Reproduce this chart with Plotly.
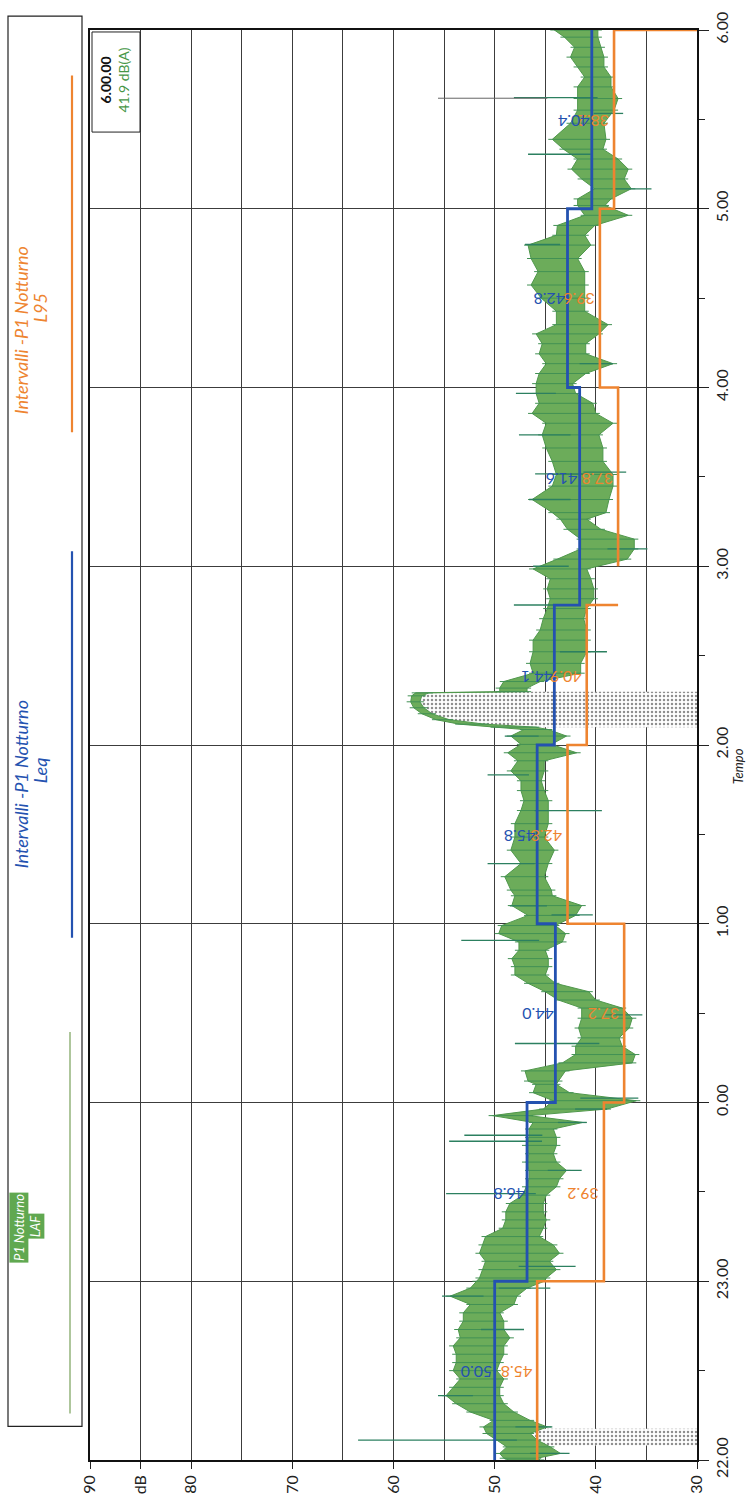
import numpy as np
import plotly.graph_objects as go

FONT = "Lato"

# ---------------- data ----------------
hour_tickvals = [0, 1, 2, 3, 4, 5, 6, 7, 8]
hour_ticktext = ["22.00", "23.00", "0.00", "1.00", "2.00", "3.00", "4.00", "5.00", "6.00"]
db_tickvals = [90, 85, 80, 70, 60, 50, 40, 30]
db_ticktext = ["90", "dB", "80", "70", "60", "50", "40", "30"]

# LAF band: minutes after 22:00, upper and lower edge (dB)
laf_minutes = [0.0, 0.6, 2.2, 4.4, 6.7, 8.9, 11.1, 13.3, 16.1, 18.9, 21.6, 24.4, 27.2, 30.0, 32.7, 35.5,
               38.3, 41.0, 43.8, 46.6, 49.4, 52.2, 55.0, 57.7, 60.0, 61.1, 63.9, 66.7, 69.4, 72.2,
               75.0, 77.8, 80.6, 83.3, 86.1, 88.9, 91.7, 94.4, 97.2, 100.0, 102.8, 105.6, 108.3,
               111.1, 113.3, 115.6, 117.8, 120.6, 123.3, 126.1, 127.2, 130.6, 133.3, 136.1, 138.9,
               141.7, 145.0, 148.3, 151.7, 154.4, 157.2, 160.0, 162.8, 165.6, 168.3, 171.1, 173.9,
               176.7, 179.4, 182.8, 186.1, 189.4, 191.3, 195.8, 200.2, 204.7, 209.1, 213.6, 218.0,
               221.3, 224.7, 228.0, 231.3, 234.7, 237.4, 240.2, 243.0, 245.2, 246.0, 247.0, 248.5,
               250.5, 252.5, 254.5, 256.5, 257.5, 257.9, 259.1, 261.3, 264.1, 267.4, 271.3,
               275.2, 278.6, 282.4, 285.8, 289.1, 292.4, 295.8, 299.1, 302.4, 305.8, 309.1, 312.4,
               315.8, 318.0, 322.4, 326.9, 330.8, 335.2, 339.7, 344.1, 348.0, 351.3, 354.7, 358.0,
               361.3, 364.7, 368.0, 371.3, 374.7, 378.0, 381.1, 385.6, 390.0, 394.4, 398.9, 403.3,
               407.8, 411.1, 414.4, 417.8, 421.1, 423.3, 426.7, 430.0, 433.3, 436.7, 440.0, 443.3,
               448.7, 453.1, 457.0, 460.9, 464.2, 467.6, 470.9, 474.2, 477.6, 480.0]
laf_upper = [48.6, 49.1, 49.5, 48.8, 49.8, 50.8, 51.1, 50.1, 52.4, 53.8, 54.8, 54.1, 53.4, 54.1, 53.8, 53.8,
             54.1, 53.4, 53.6, 53.1, 53.1, 52.4, 54.4, 52.4, 51.8, 51.5, 51.2, 50.9, 51.5, 51.2,
             50.9, 49.2, 48.9, 48.9, 48.5, 47.2, 46.9, 46.6, 46.6, 46.9, 46.6, 46.9, 46.6,
             46.6, 46.2, 50.2, 45.2, 44.2, 46.2, 45.9, 46.7, 47.0, 43.3, 42.0, 42.0,
             41.4, 41.7, 41.4, 41.4, 43.7, 45.0, 46.7, 48.0, 48.0, 48.3, 47.6, 47.6,
             49.6, 49.3, 46.7, 48.3, 48.0, 48.4, 49.0, 47.4, 48.4, 48.0, 48.0, 47.4,
             47.1, 47.4, 47.4, 48.4, 47.7, 48.7, 47.4, 48.4, 47.1, 50.0, 53.5, 55.8,
             57.2, 58.0, 58.3, 58.2, 57.8, 49.5, 49.5, 49.1, 46.2, 46.5, 46.2,
             46.2, 45.5, 45.2, 44.8, 44.5, 44.8, 44.5, 46.2, 43.8, 41.5, 41.5, 42.8,
             43.5, 44.3, 46.3, 44.3, 43.9, 44.3, 44.9, 45.3, 44.9, 46.3, 45.6, 45.9,
             45.9, 45.6, 44.9, 45.6, 45.3, 45.9, 43.9, 43.9, 45.4, 46.4, 45.7, 46.4,
             46.7, 43.9, 43.8, 41.1, 41.8, 41.8, 40.1, 41.4, 42.4, 41.8, 43.2, 44.3,
             42.5, 41.8, 41.8, 41.8, 41.1, 41.8, 42.5, 42.1, 43.1, 44.1]
laf_lower = [45.5, 45.8, 43.5, 44.5, 45.8, 46.5, 44.8, 46.5, 48.1, 49.1, 49.5, 49.5, 49.1, 49.8, 49.5, 49.1,
             49.1, 48.5, 49.1, 49.1, 49.5, 48.1, 47.8, 46.8, 45.1, 44.9, 43.9, 44.6, 43.6, 44.2,
             45.6, 45.2, 44.9, 45.2, 45.2, 44.9, 43.9, 43.6, 42.9, 43.9, 44.2, 43.9, 43.9,
             44.2, 41.3, 46.6, 38.9, 36.0, 42.6, 43.9, 43.7, 43.0, 36.4, 36.1, 37.4,
             37.7, 36.7, 36.4, 37.4, 40.0, 40.7, 44.0, 45.0, 44.7, 44.7, 45.0, 43.3,
             43.0, 44.0, 42.0, 41.4, 44.3, 44.4, 45.1, 44.7, 44.1, 45.1, 44.7, 44.7,
             44.7, 45.1, 45.4, 45.1, 45.1, 41.9, 44.4, 42.9, 44.7, 46.0, 51.0, 54.5,
             56.2, 57.0, 57.4, 57.2, 56.5, 46.8, 46.8, 45.5, 41.5, 41.5, 40.9,
             40.9, 40.9, 41.2, 40.9, 40.2, 40.2, 40.5, 40.9, 36.9, 36.2, 36.2, 39.5,
             40.9, 39.0, 38.7, 38.3, 38.3, 39.3, 39.3, 39.7, 38.3, 40.0, 40.3, 42.0,
             42.3, 41.0, 38.3, 41.0, 41.0, 39.7, 38.8, 41.1, 41.1, 41.1, 41.1, 41.8,
             40.5, 41.1, 40.1, 36.8, 39.1, 38.5, 36.5, 37.2, 36.8, 37.8, 39.3, 39.0,
             39.2, 38.2, 37.8, 38.5, 38.5, 39.2, 39.2, 39.5, 39.8, 39.8]

# isolated LAF peaks: minutes after 22:00 and peak level (dB)
spike_minutes = [2.2, 6.7, 11.1, 21.6, 43.8, 55.0, 57.7, 65.0, 89.4, 97.2, 107.0, 109.0, 113.3,
                 117.8, 121.5, 139.8, 149.4, 174.4, 183.0, 186.0, 200.2, 218.0, 230.0, 243.0,
                 271.3, 287.0, 300.0, 305.8, 322.4, 331.0, 331.6, 344.1, 358.0, 368.0, 408.0,
                 426.7, 438.3, 452.0, 457.3]
spike_db = [42.6, 63.5, 44.3, 55.6, 47.1, 55.2, 44.5, 42.0, 54.8, 41.4, 54.5, 53.0, 40.9,
            38.9, 35.8, 48.0, 35.4, 53.3, 40.3, 48.5, 50.7, 39.4, 50.7, 49.0,
            38.9, 48.1, 46.2, 34.9, 46.6, 46.0, 37.0, 47.6, 47.9, 38.3, 47.0,
            34.5, 46.7, 37.3, 48.1]

# thin grey marker line near 5.37
marker_minute = 457.1
marker_db = [55.6, 44.8]

# interval levels (Leq blue, L95 orange); hours after 22:00
interval_edges_h = [0, 1, 2, 3, 4, 4.783, 5, 6, 7, 8]
leq_values = [50.0, 46.8, 44.0, 45.8, 44.1, 41.6, 41.6, 42.8, 40.4]
l95_values = [45.8, 39.2, 37.2, 42.8, 40.9, None, 37.8, 39.6, 38.2]

label_hours = [0.5, 1.5, 2.5, 3.5, 4.392, 5.5, 6.5, 7.5]
leq_labels = [50.0, 46.8, 44.0, 45.8, 44.1, 41.6, 42.8, 40.4]
l95_labels = [45.8, 39.2, 37.2, 42.8, 40.9, 37.8, 39.6, 38.2]

# excluded (dotted) periods, minutes after 22:00
excl1_minutes = [4.9, 10.5]
excl1_level = 46.8
excl2_minutes = [245.8, 257.9]

cursor_time = "6.00.00"
cursor_value = "41.9 dB(A)"

# ---------------- colours ----------------
GREEN = "rgb(108,172,90)"
GREEN_EDGE = "rgb(80,152,76)"
HATCH = "rgb(66,145,84)"
SPIKE = "rgb(44,128,96)"
BLUE = "#2452b0"
ORANGE = "#ee8430"
GRID = "#3c3c3c"

# layout pixel geometry
W, H = 749, 1506
PL, PR, PT, PB = 90, 697, 19, 1462


def px(x):
    return (x - PL) / (PR - PL)


def py(y):
    return (PB - y) / (PB - PT)


fig = go.Figure()

dots = dict(shape=".", fgcolor="#1e1e1e", bgcolor="white", size=4, solidity=0.3)

# excluded region 1
e1 = [m / 60 for m in excl1_minutes]
fig.add_trace(go.Scatter(x=[excl1_level, 30, 30, excl1_level, excl1_level],
                         y=[e1[0], e1[0], e1[1], e1[1], e1[0]],
                         mode="lines", fill="toself", fillcolor="white",
                         fillpattern=dots, line=dict(width=0), hoverinfo="skip"))

# excluded region 2 (under the trace)
t_arr = np.array(laf_minutes)
lo_arr = np.array(laf_lower)
hi_arr = np.array(laf_upper)
mask = (t_arr >= excl2_minutes[0]) & (t_arr <= excl2_minutes[1])
ex2_t = list(t_arr[mask] / 60)
ex2_x = list(lo_arr[mask])
fig.add_trace(go.Scatter(x=ex2_x + [30, 30] + [ex2_x[0]],
                         y=ex2_t + [ex2_t[-1], ex2_t[0]] + [ex2_t[0]],
                         mode="lines", fill="toself", fillcolor="white",
                         fillpattern=dots, line=dict(width=0), hoverinfo="skip"))

# LAF band
hours = [m / 60 for m in laf_minutes]
fig.add_trace(go.Scatter(x=laf_upper + laf_lower[::-1], y=hours + hours[::-1],
                         mode="lines", fill="toself", fillcolor=GREEN,
                         line=dict(color=GREEN_EDGE, width=1), hoverinfo="skip"))

# short strokes across the band at every reading (the fast LAF fluctuation)
hx, hy = [], []
for m, u, l in zip(laf_minutes, laf_upper, laf_lower):
    hx += [u + 0.4, l - 0.4, None]
    hy += [m / 60, m / 60, None]
fig.add_trace(go.Scatter(x=hx, y=hy, mode="lines", line=dict(color=HATCH, width=1),
                         hoverinfo="skip"))

# spikes
center = (hi_arr + lo_arr) / 2
sx, sy = [], []
for m, v in zip(spike_minutes, spike_db):
    base = float(np.interp(m, t_arr, center))
    sx += [base, v, None]
    sy += [m / 60, m / 60, None]
fig.add_trace(go.Scatter(x=sx, y=sy, mode="lines", line=dict(color=SPIKE, width=1.3),
                         hoverinfo="skip"))
fig.add_trace(go.Scatter(x=marker_db, y=[marker_minute / 60] * 2, mode="lines",
                         line=dict(color="#666666", width=1), hoverinfo="skip"))


def step_xy(values, edges, close_to=None):
    xs, ys = [], []
    prev = None
    for i, v in enumerate(values):
        if v is None:
            if prev is not None:
                nxt = next((w for w in values[i + 1:] if w is not None), None)
                xs += [nxt, None]
                ys += [edges[i], None]
            prev = None
            continue
        xs.append(v)
        ys.append(edges[i])
        xs.append(v)
        ys.append(edges[i + 1])
        prev = v
    if close_to is not None:
        xs.append(close_to)
        ys.append(edges[-1])
    return xs, ys


ox, oy = step_xy(l95_values, interval_edges_h, close_to=30)
fig.add_trace(go.Scatter(x=ox, y=oy, mode="lines", line=dict(color=ORANGE, width=2.6),
                         hoverinfo="skip"))
bx, by = step_xy(leq_values, interval_edges_h)
fig.add_trace(go.Scatter(x=bx, y=by, mode="lines", line=dict(color=BLUE, width=2.8),
                         hoverinfo="skip"))

annotations = []
for h, v in zip(label_hours, l95_labels):
    annotations.append(dict(x=v, y=h, xref="x", yref="y", text=f"{v:.1f}", showarrow=False,
                            textangle=180, xanchor="right", yanchor="middle", xshift=-3, yshift=-2,
                            font=dict(family=FONT, size=16, color=ORANGE)))
for h, v in zip(label_hours, leq_labels):
    annotations.append(dict(x=v, y=h, xref="x", yref="y", text=f"{v:.1f}", showarrow=False,
                            textangle=180, xanchor="right", yanchor="middle", xshift=0, yshift=-2,
                            font=dict(family=FONT, size=16, color=BLUE)))


def ann(x, y, text, color, size=14, angle=-90, **kw):
    d = dict(x=px(x), y=py(y), xref="paper", yref="paper", text=text, showarrow=False,
             textangle=angle, xanchor="center", yanchor="middle",
             font=dict(family=FONT, size=size, color=color))
    d.update(kw)
    annotations.append(d)


# legend texts
ann(21, 322, "<i>Intervalli -P1 Notturno</i>", ORANGE, 18)
ann(40, 300, "<i>L95</i>", ORANGE, 18)
ann(21, 780, "<i>Intervalli -P1 Notturno</i>", BLUE, 18)
ann(40, 766, "<i>Leq</i>", BLUE, 18)
ann(19, 1228, "<i>P1 Notturno</i>", "white", 13, bgcolor="rgb(96,168,80)", borderpad=1)
ann(35, 1226, "<i>LAF</i>", "white", 13, bgcolor="rgb(96,168,80)", borderpad=1)
# axis title
ann(738, 762, "<i>Tempo</i>", "#222", 13)
# cursor readout
ann(106, 70, "<b>" + cursor_time + "</b>", "#111", 14)
ann(124, 70, cursor_value, "rgb(70,150,70)", 14)

shapes = [
    dict(type="rect", xref="paper", yref="paper", x0=px(8), x1=px(82), y0=py(1428), y1=py(5),
         line=dict(color="#222", width=1.2)),
    dict(type="line", xref="paper", yref="paper", x0=px(72), x1=px(72), y0=py(425), y1=py(65),
         line=dict(color=ORANGE, width=2.2)),
    dict(type="line", xref="paper", yref="paper", x0=px(72), x1=px(72), y0=py(935), y1=py(545),
         line=dict(color=BLUE, width=2.2)),
    dict(type="line", xref="paper", yref="paper", x0=px(70), x1=px(70), y0=py(1415), y1=py(1030),
         line=dict(color="rgb(120,160,90)", width=1.2)),
    dict(type="rect", xref="paper", yref="paper", x0=px(92), x1=px(140), y0=py(122), y1=py(21),
         line=dict(color="#222", width=1), fillcolor="white", layer="above"),
]

fig.update_layout(
    width=W, height=H,
    margin=dict(l=PL, r=W - PR, t=PT, b=H - PB),
    paper_bgcolor="white", plot_bgcolor="white",
    showlegend=False,
    font=dict(family=FONT, color="#222"),
    annotations=annotations, shapes=shapes,
)
fig.update_xaxes(range=[90, 30], tickmode="array", tickvals=db_tickvals, ticktext=db_ticktext,
                 tickangle=-90, ticks="outside", ticklen=7, tickcolor="#222",
                 tickfont=dict(family=FONT, size=16, color="#222"),
                 showgrid=True, gridcolor=GRID, gridwidth=1,
                 minor=dict(dtick=5, tick0=30, showgrid=True, gridcolor=GRID, gridwidth=1, ticks=""),
                 showline=True, linecolor="#111", linewidth=1.5, mirror=True, zeroline=False)
fig.update_yaxes(range=[0, 8], side="right", tickmode="array", tickvals=hour_tickvals,
                 ticktext=hour_ticktext, tickangle=-90, ticks="outside", ticklen=10,
                 tickcolor="#222", tickfont=dict(family=FONT, size=16, color="#222"),
                 minor=dict(dtick=0.5, tick0=0, ticks="outside", ticklen=6, showgrid=False,
                            tickcolor="#222"),
                 showgrid=True, gridcolor=GRID, gridwidth=1,
                 showline=True, linecolor="#111", linewidth=1.5, mirror=True, zeroline=False)

fig.write_html("out.html")
